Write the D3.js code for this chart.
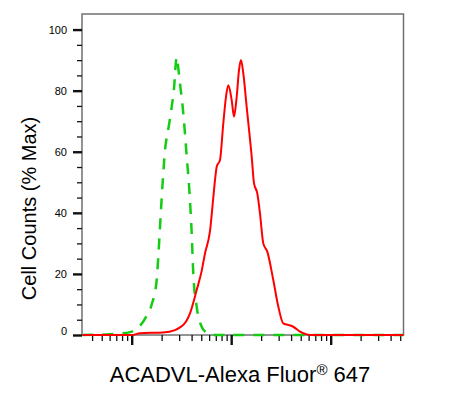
<!DOCTYPE html>
<html>
<head>
<meta charset="utf-8">
<script src="https://cdn.jsdelivr.net/npm/d3@7"></script>
<style>
  body { margin: 0; background: #fff; }
  svg text { font-family: "Liberation Sans", Arial, sans-serif; fill: #000; }
</style>
</head>
<body>
<script>
// isotype control (green, dashed)
var isoX = [320, 550, 800, 1000, 1211, 1400, 1589, 1783, 1850, 2003, 2162, 2350, 2525, 2650, 2833, 2950, 3057, 3302, 3573, 3793, 4009, 4158, 4497, 5054, 5600, 6124, 20000, 539000];
var isoY = [0, 0.2, 0.5, 1.1, 3.0, 6.0, 10, 18, 25.6, 45, 60.5, 68, 74.7, 80, 91, 87, 82.4, 72.6, 58.4, 47.5, 33.3, 20.2, 9.3, 2.7, 0.8, 0, 0, 0];

// ACADVL stained cells (red, solid)
var cellX = [320, 1000, 1211, 2063, 2724, 3057, 3302, 3855, 4498, 5052, 5453, 6121, 6610, 6875, 7150, 7716, 8330, 8867, 9350, 10116, 10670, 11360, 11980, 12546, 13230, 14310, 16070, 16950, 18290, 19470, 21020, 23060, 26490, 29740, 33390, 37490, 42100, 49150, 57410, 64420, 539000];
var cellY = [0, 0, 0.6, 0.8, 1.6, 2.5, 3.3, 7.1, 14.7, 21, 26.7, 34, 45, 50.7, 55.1, 57.3, 69.3, 78, 81.8, 76.9, 71.5, 78, 86.7, 90, 85.7, 74.7, 58.4, 49.7, 46.4, 39.8, 30, 27.3, 18, 9.3, 3.8, 3.3, 2.7, 1.1, 0.2, 0, 0];

var yMajor = [0, 20, 40, 60, 80, 100];
var yMinorStep = 5;

var width = 458, height = 396;
var plot = {left: 82, right: 403.5, top: 14, bottom: 335};

var svg = d3.select("body").append("svg")
    .attr("width", width)
    .attr("height", height);

var x = d3.scaleLog().domain([316.6, 539300]).range([plot.left, plot.right]);
var y = d3.scaleLinear().domain([0, 105.1]).range([plot.bottom, plot.top]);

// frame
svg.append("rect")
    .attr("x", plot.left)
    .attr("y", plot.top)
    .attr("width", plot.right - plot.left)
    .attr("height", plot.bottom - plot.top)
    .attr("fill", "none")
    .attr("stroke", "#707070")
    .attr("stroke-width", 1.5);

// y axis: major + minor ticks
var yMinor = d3.range(0, 105, yMinorStep).filter(function(v) { return yMajor.indexOf(v) < 0; });

var yMin = svg.append("g")
    .attr("transform", "translate(" + plot.left + ",0)")
    .call(d3.axisLeft(y).tickValues(yMinor).tickSize(5).tickFormat(""));
yMin.select(".domain").remove();
yMin.selectAll("line").attr("stroke", "#111").attr("stroke-width", 1.3);

var yMaj = svg.append("g")
    .attr("transform", "translate(" + plot.left + ",0)")
    .call(d3.axisLeft(y).tickValues(yMajor).tickSize(9).tickPadding(6).tickFormat(d3.format("d")));
yMaj.select(".domain").remove();
yMaj.selectAll("line").attr("stroke", "#111").attr("stroke-width", 2.4);
yMaj.selectAll("text")
    .style("font-size", "11px")
    .attr("dy", function(d) { return d === 0 ? "-0.05em" : "0.32em"; });

// x axis: log decades (major) and in-between ticks (minor)
var xTicks = x.ticks();
var isDecade = function(v) { return Math.abs(Math.log10(v) - Math.round(Math.log10(v))) < 1e-9; };

var xMin = svg.append("g")
    .attr("transform", "translate(0," + plot.bottom + ")")
    .call(d3.axisBottom(x).tickValues(xTicks.filter(function(v) { return !isDecade(v); })).tickSize(6).tickFormat(""));
xMin.select(".domain").remove();
xMin.selectAll("line").attr("stroke", "#111").attr("stroke-width", 1.3);

var xMaj = svg.append("g")
    .attr("transform", "translate(0," + plot.bottom + ")")
    .call(d3.axisBottom(x).tickValues(xTicks.filter(isDecade)).tickSize(10).tickFormat(""));
xMaj.select(".domain").remove();
xMaj.selectAll("line").attr("stroke", "#111").attr("stroke-width", 2.4);

// histograms
var line = d3.line()
    .x(function(d) { return x(d[0]); })
    .y(function(d) { return y(d[1]); })
    .curve(d3.curveMonotoneX);

svg.append("path")
    .datum(d3.zip(isoX, isoY))
    .attr("d", line)
    .attr("fill", "none")
    .attr("stroke", "#14cc14")
    .attr("stroke-width", 2.5)
    .attr("stroke-dasharray", "11,9");

svg.append("path")
    .datum(d3.zip(cellX, cellY))
    .attr("d", line)
    .attr("fill", "none")
    .attr("stroke", "#ff0000")
    .attr("stroke-width", 2);

// axis titles
var xt = svg.append("text")
    .attr("x", 240)
    .attr("y", 382)
    .attr("text-anchor", "middle")
    .style("font-size", "22px");
xt.append("tspan").text("ACADVL-Alexa Fluor");
xt.append("tspan").attr("dy", "-7").style("font-size", "15px").text("®");
xt.append("tspan").attr("dy", "7").text(" 647");

svg.append("text")
    .attr("transform", "translate(36,208.5) rotate(-90)")
    .attr("text-anchor", "middle")
    .style("font-size", "20px")
    .text("Cell Counts (% Max)");
</script>
</body>
</html>
